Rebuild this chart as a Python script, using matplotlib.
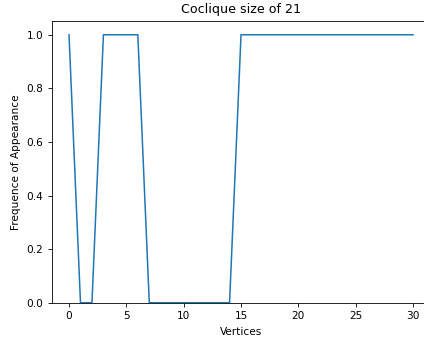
import matplotlib
matplotlib.use("Agg")
import matplotlib.pyplot as plt

vertices = list(range(31))
frequency = [1, 0, 0, 1, 1, 1, 1, 0, 0, 0, 0, 0, 0, 0, 0,
             1, 1, 1, 1, 1, 1, 1, 1, 1, 1, 1, 1, 1, 1, 1, 1]

plt.rcParams["font.size"] = 7.6

fig = plt.figure(figsize=(4.24, 3.39), dpi=100)
ax = fig.add_axes([0.1222, 0.107, 0.8925, 0.830])
ax.plot(vertices, frequency, color="#1f77b4", linewidth=1.1)
ax.set_xlim(-1.5, 31.5)
ax.set_ylim(0, 1.05)
ax.set_xticks([0, 5, 10, 15, 20, 25, 30])
ax.set_yticks([0.0, 0.2, 0.4, 0.6, 0.8, 1.0])
ax.tick_params(length=2.6, width=0.6)
for s in ax.spines.values():
    s.set_linewidth(0.6)
ax.set_xlabel("Vertices")
ax.set_ylabel("Frequence of Appearance")
ax.set_title("Coclique size of 21", fontsize=9.1)
fig.savefig("out.png", dpi=100)
